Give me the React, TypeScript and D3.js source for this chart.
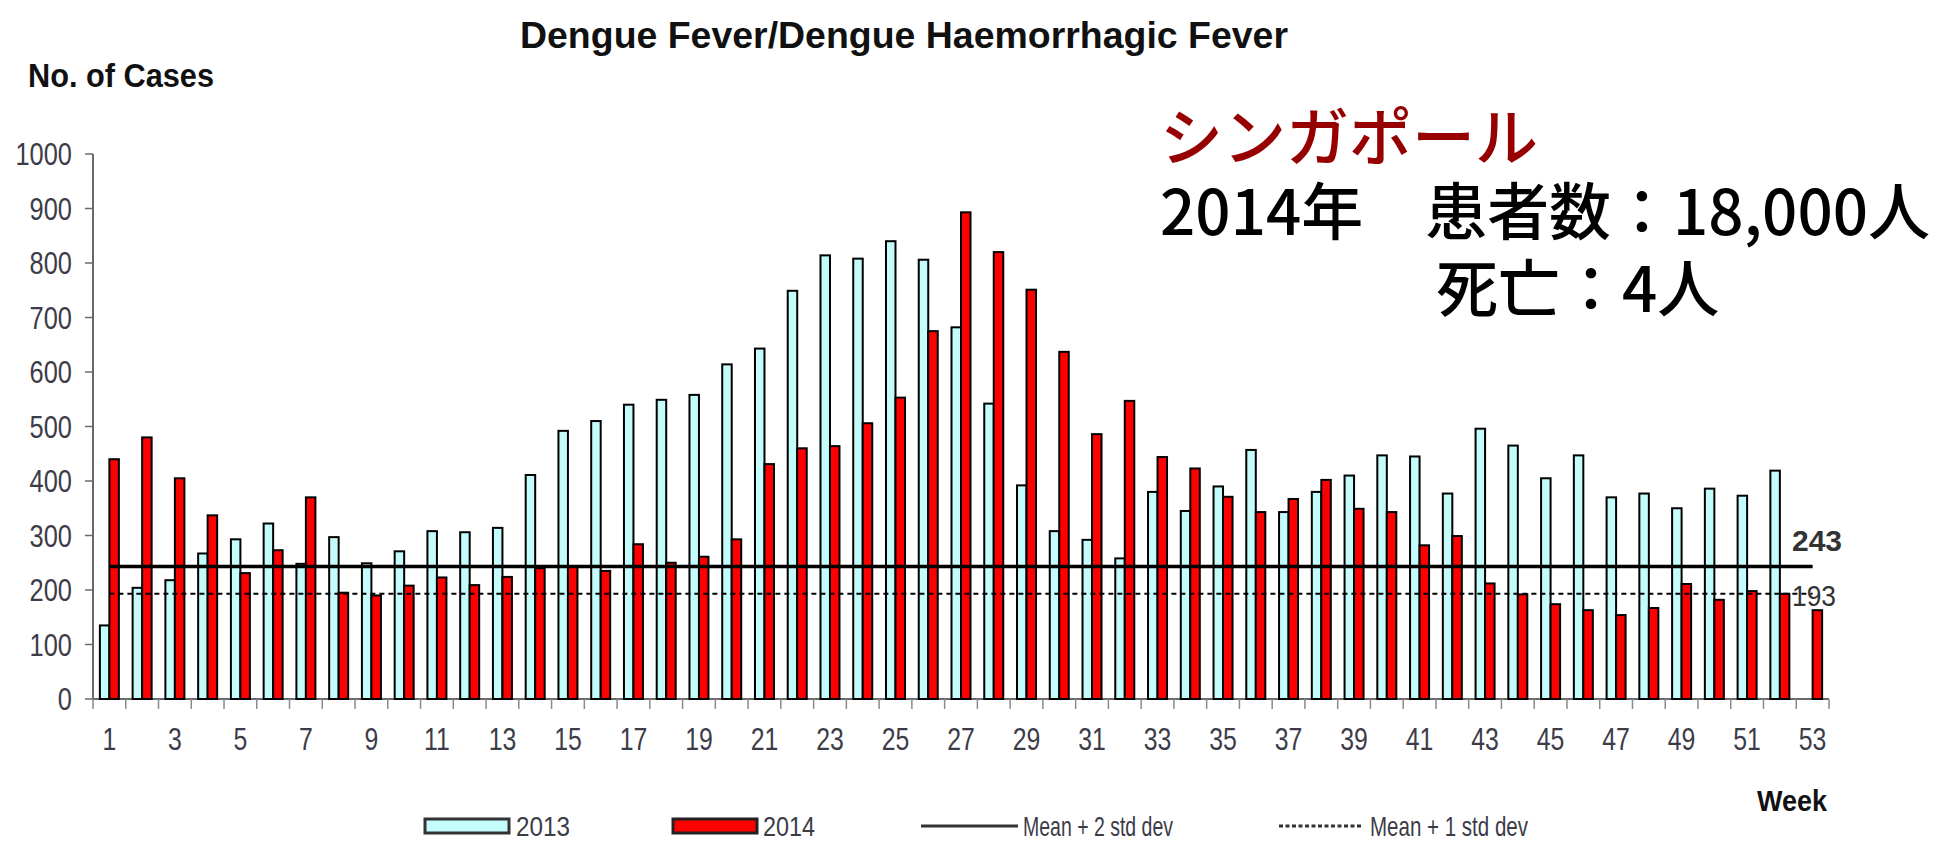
import React from "react";
import * as d3 from "d3";

const weeks = [1,2,3,4,5,6,7,8,9,10,11,12,13,14,15,16,17,18,19,20,21,22,23,24,25,26,27,28,29,30,31,32,33,34,35,36,37,38,39,40,41,42,43,44,45,46,47,48,49,50,51,52,53];
const cases2013 = [135,204,218,267,293,322,248,297,249,271,308,306,314,411,492,510,540,549,558,614,643,749,814,808,840,806,682,542,392,308,292,258,380,345,390,457,343,380,410,447,445,377,496,465,405,447,370,377,350,386,373,419];
const cases2014 = [440,480,405,337,231,273,370,195,190,208,223,209,224,240,244,235,284,250,261,293,431,460,464,506,553,675,893,820,751,637,486,547,444,423,371,343,367,402,349,343,282,299,212,192,174,163,154,167,211,182,198,193,163];
const xTickLabels = [1,3,5,7,9,11,13,15,17,19,21,23,25,27,29,31,33,35,37,39,41,43,45,47,49,51,53];
const yTickValues = [0,100,200,300,400,500,600,700,800,900,1000];
const seriesNames = ["2013", "2014"];
const mean2sd = 243;
const mean1sd = 193;

const LATIN = "'Liberation Sans', Arial, sans-serif";
const CJK = "'Noto Sans CJK JP', 'Noto Sans CJK SC', sans-serif";
const CYAN = "#c4fbfb";
const RED = "#ff0000";
const LABEL = "#3c3c48";

function CText(props: any) {
  const { x, y, sx = 1, anchor = "start", size, weight = "normal", fill = LABEL, children } = props;
  return (
    <text
      transform={`translate(${x},${y}) scale(${sx},1)`}
      textAnchor={anchor}
      fontFamily={LATIN}
      fontSize={size}
      fontWeight={weight}
      fill={fill}
    >
      {children}
    </text>
  );
}

export default function App() {
  const W = 1951, H = 842;
  const x0 = d3.scaleBand<number>().domain(weeks).range([93, 1829]).padding(0);
  const bw = x0.bandwidth();
  const x1 = d3.scaleBand<string>().domain(seriesNames).range([bw / 2 - 9.5, bw / 2 + 9.5]);
  const y = d3.scaleLinear().domain([0, 1000]).range([699, 154]);
  const cx = (w: number) => (x0(w) as number) + bw / 2;

  const legendY = 826;

  return (
    <svg width={W} height={H} style={{ position: "absolute", left: 0, top: 0, background: "#fff" }}>
      <rect x={0} y={0} width={W} height={H} fill="#fff" />
      {/* Title */}
      <text x={904} y={48} textAnchor="middle" fontFamily={LATIN} fontWeight="bold" fontSize={37} fill="#111" textLength={768} lengthAdjust="spacingAndGlyphs">
        Dengue Fever/Dengue Haemorrhagic Fever
      </text>
      <text x={28} y={87} fontFamily={LATIN} fontWeight="bold" fontSize={33} fill="#111" textLength={186} lengthAdjust="spacingAndGlyphs">
        No. of Cases
      </text>

      {/* Y axis */}
      <line x1={93} x2={93} y1={y(1000)} y2={y(0)} stroke="#6a6a6a" strokeWidth={2} />
      {yTickValues.map((v) => (
        <g key={"yt" + v}>
          <line x1={85} x2={93} y1={y(v)} y2={y(v)} stroke="#6a6a6a" strokeWidth={1.5} />
          <CText x={72} y={y(v) + 11} sx={0.82} anchor="end" size={31}>{v}</CText>
        </g>
      ))}

      {/* X axis */}
      <line x1={93} x2={1829} y1={y(0)} y2={y(0)} stroke="#6a6a6a" strokeWidth={2} />
      {weeks.map((w) => (
        <line key={"xt" + w} x1={(x0(w) as number) + bw} x2={(x0(w) as number) + bw} y1={y(0)} y2={y(0) + 10} stroke="#8a8a8a" strokeWidth={1.5} />
      ))}
      <line x1={93} x2={93} y1={y(0)} y2={y(0) + 10} stroke="#8a8a8a" strokeWidth={1.5} />
      {xTickLabels.map((w) => (
        <CText key={"xl" + w} x={cx(w)} y={750} sx={0.8} anchor="middle" size={31}>{w}</CText>
      ))}

      {/* Bars */}
      {cases2013.map((v, i) => (
        <rect key={"a" + i} x={(x0(weeks[i]) as number) + (x1("2013") as number)} y={y(v)} width={x1.bandwidth()} height={y(0) - y(v)} fill={CYAN} stroke="#000" strokeWidth={2} />
      ))}
      {cases2014.map((v, i) => (
        <rect key={"b" + i} x={(x0(weeks[i]) as number) + (x1("2014") as number)} y={y(v)} width={x1.bandwidth()} height={y(0) - y(v)} fill={RED} stroke="#000" strokeWidth={2} />
      ))}

      {/* Threshold lines */}
      <line x1={cx(1)} x2={cx(53)} y1={y(mean2sd)} y2={y(mean2sd)} stroke="#000" strokeWidth={3.5} />
      <line x1={cx(1)} x2={cx(53)} y1={y(mean1sd)} y2={y(mean1sd)} stroke="#000" strokeWidth={2} strokeDasharray="5,4" />
      <CText x={1792} y={551} size={30} weight="bold" fill="#333">
        <tspan>{mean2sd}</tspan>
      </CText>
      <text x={1792} y={y(mean1sd) + 12} fontFamily={LATIN} fontSize={30} fill="#333" textLength={44} lengthAdjust="spacingAndGlyphs">{mean1sd}</text>

      {/* Week label */}
      <text x={1757} y={811} fontFamily={LATIN} fontWeight="bold" fontSize={29} fill="#111" textLength={70} lengthAdjust="spacingAndGlyphs">Week</text>

      {/* Legend */}
      <rect x={425} y={legendY - 7} width={84} height={14} fill={CYAN} stroke="#333" strokeWidth={3} />
      <text x={516} y={legendY + 10} fontFamily={LATIN} fontSize={28} fill={LABEL} textLength={54} lengthAdjust="spacingAndGlyphs">2013</text>
      <rect x={673} y={legendY - 7} width={84} height={14} fill={RED} stroke="#222" strokeWidth={3} />
      <text x={763} y={legendY + 10} fontFamily={LATIN} fontSize={28} fill={LABEL} textLength={52} lengthAdjust="spacingAndGlyphs">2014</text>
      <line x1={921} x2={1018} y1={legendY} y2={legendY} stroke="#333" strokeWidth={3} />
      <text x={1023} y={legendY + 10} fontFamily={LATIN} fontSize={28} fill={LABEL} textLength={150} lengthAdjust="spacingAndGlyphs">Mean + 2 std dev</text>
      <line x1={1279} x2={1362} y1={legendY} y2={legendY} stroke="#333" strokeWidth={3} strokeDasharray="4,2.5" />
      <text x={1370} y={legendY + 10} fontFamily={LATIN} fontSize={28} fill={LABEL} textLength={158} lengthAdjust="spacingAndGlyphs">Mean + 1 std dev</text>

      {/* Japanese annotation */}
      <text x={1160} y={160} fontFamily={CJK} fontWeight={500} fontSize={63} fill="#960000">シンガポール</text>
      <text x={1160} y={235} fontFamily={CJK} fontWeight={500} fontSize={62} fill="#000" textLength={770} lengthAdjust="spacingAndGlyphs">2014年　患者数：18,000人</text>
      <text x={1436} y={312} fontFamily={CJK} fontWeight={500} fontSize={62} fill="#000">死亡：4人</text>
    </svg>
  );
}
